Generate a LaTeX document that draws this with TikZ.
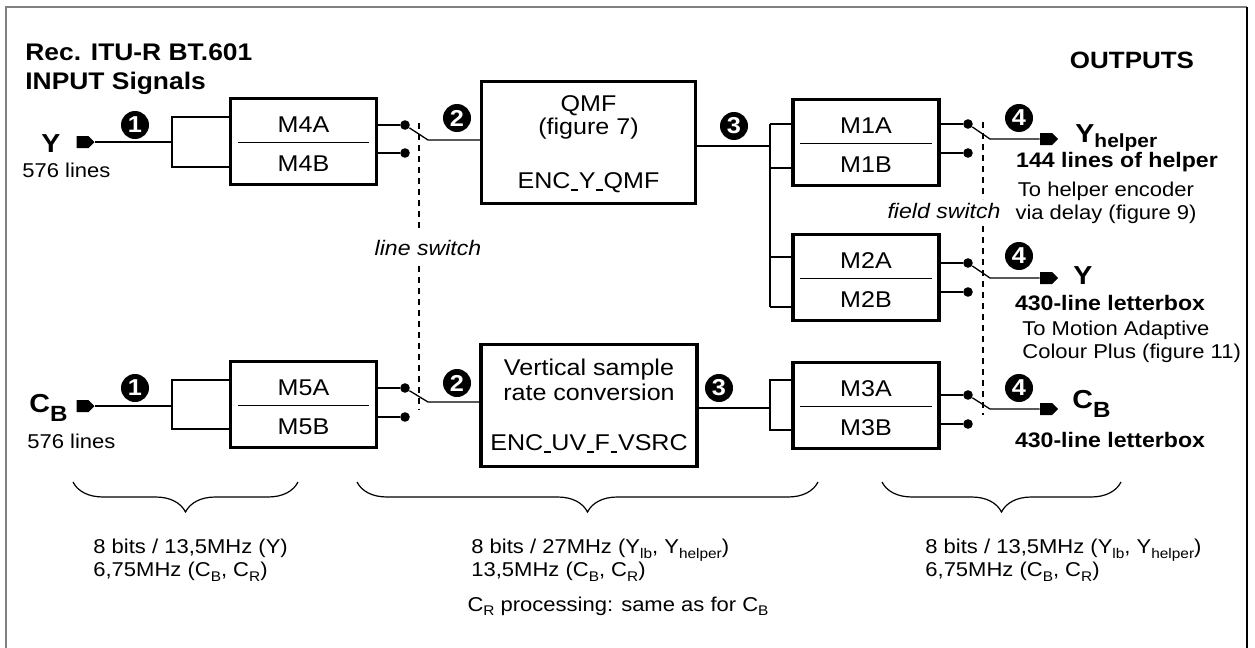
\documentclass[tikz,border=0pt]{standalone}
\usepackage{fontspec}
\setmainfont{Liberation Sans}[FakeStretch=1.1]
\usepackage{tikz}
\usetikzlibrary{positioning}
\usetikzlibrary{calc, shapes.symbols, decorations.pathreplacing}

\newcommand{\lsub}[1]{\raisebox{-0.4ex}{\fontsize{7}{8}\selectfont #1}}
\newcommand{\us}{\kern0.04em\rule[-0.12em]{0.28em}{0.07em}\kern0.04em}
\newcommand{\muxbox}[4]{%
  \node[muxbox] (#1) at (#2) {};
  \draw[wire] ($(#1.west)+(9,1)$) -- ($(#1.east)+(-9,1)$);
  \node[lbl] (#1a) at ($(#1)+(0,-17)$) {#3};
  \node[lbl] (#1b) at ($(#1)+(0,22)$) {#4};
}

\tikzset{
  muxbox/.style={draw, line width=1.6pt, minimum width=73pt, minimum height=43pt, inner sep=0},
  procbox/.style={draw, line width=1.6pt, minimum width=107pt, minimum height=61pt, inner sep=0},
  lbl/.style={font=\fontsize{11.4}{13}\selectfont, inner sep=0},
  note/.style={font=\fontsize{10}{11.5}\selectfont, inner sep=0},
  bnote/.style={font=\bfseries\fontsize{10.5}{12}\selectfont, inner sep=0},
  wire/.style={line width=0.65pt},
  dot/.style={circle, fill, inner sep=0, minimum size=4.8pt},
  num/.style={circle, fill, text=white, font=\bfseries\fontsize{11.5}{11.5}\selectfont, inner sep=0, minimum size=14pt},
  plug/.style={signal, signal to=east, fill, inner sep=0, minimum height=6pt, minimum width=9pt},
  swline/.style={line width=0.6pt, dash pattern=on 3pt off 2.5pt},
  swtext/.style={font=\itshape\fontsize{10.5}{12}\selectfont, inner sep=1pt},
  brc/.style={decorate, decoration={brace, mirror, amplitude=15pt}, line width=0.6pt},
}

\begin{document}
\begin{tikzpicture}[x=0.5pt, y=-0.5pt]
    \useasboundingbox (0,0) rectangle (1255,648);
    % frame
    \draw[gray, line width=1pt] (6,648) -- (6,7) -- (1247,7);
    \draw[line width=0.6pt] (1247,7) -- (1247,648);

    % headings
    \node[font=\bfseries\fontsize{12}{14.5}\selectfont, align=left, anchor=north west, inner sep=0] (title) at (25,43) {Rec. ITU-R BT.601\\INPUT Signals};
    \node[font=\bfseries\fontsize{11.8}{13}\selectfont, inner sep=0] (outs) at (1132,60) {OUTPUTS};

    % inputs
    \node[font=\bfseries\fontsize{13}{14}\selectfont, anchor=base west, inner sep=0] (yin) at (41,152) {Y};
    \node[note, anchor=base west] (yinl) at (22,177) {576 lines};
    \node[plug] (py) at (82.5,142) {};
    \node[anchor=base west, inner sep=0] (cin) at (29,412) {\bfseries{\fontsize{13}{14}\selectfont C}\raisebox{-4.5pt}{\fontsize{11}{12}\selectfont B}};
    \node[note, anchor=base west] (cinl) at (27,448) {576 lines};
    \node[plug] (pc) at (82.5,406) {};

    % line multiplexers
    \muxbox{m4}{303.5,141.5}{M4A}{M4B}
    \muxbox{m5}{303.5,404.5}{M5A}{M5B}

    \coordinate (b4t) at (172,117);
    \coordinate (b4b) at (172,167);
    \draw[wire] (py.east) -- (py.east -| b4t);
    \draw[wire] (m4.west |- b4t) -- (b4t) -- (b4b) -- (m4.west |- b4b);
    \coordinate (b5t) at (172,380);
    \coordinate (b5b) at (172,429);
    \draw[wire] (pc.east) -- (pc.east -| b5t);
    \draw[wire] (m5.west |- b5t) -- (b5t) -- (b5b) -- (m5.west |- b5b);

    \node[num] (n1y) at (135,125) {1};
    \node[num] (n1c) at (135,388) {1};

    % processing
    \node[procbox] (qmf) at (588.5,142.5) {};
    \node[lbl, anchor=base] at ($(qmf)+(0,-30.5)$) {QMF};
    \node[lbl, anchor=base] at ($(qmf)+(0,-8)$) {(figure 7)};
    \node[lbl, anchor=base] at ($(qmf)+(0,45.5)$) {ENC\us Y\us QMF};

    \node[procbox, minimum width=108pt] (vsrc) at (589,405.5) {};
    \node[lbl, anchor=base] at ($(vsrc)+(0,-30.5)$) {Vertical sample};
    \node[lbl, anchor=base] at ($(vsrc)+(0,-5.5)$) {rate conversion};
    \node[lbl, anchor=base] at ($(vsrc)+(0,44.5)$) {ENC\us UV\us F\us VSRC};

    % line switch
    \node[dot] (d4a) at (405,125) {};
    \node[dot] (d4b) at (405,153) {};
    \draw[wire] (m4.east |- d4a) -- (d4a);
    \draw[wire] (m4.east |- d4b) -- (d4b);
    \coordinate (s4) at (428,140);
    \draw[wire] (d4a) -- (s4) -- (s4 -| qmf.west);

    \node[dot] (d5a) at (405,388) {};
    \node[dot] (d5b) at (405,417) {};
    \draw[wire] (m5.east |- d5a) -- (d5a);
    \draw[wire] (m5.east |- d5b) -- (d5b);
    \coordinate (s5) at (428,402);
    \draw[wire] (d5a) -- (s5) -- (s5 -| vsrc.west);

    \draw[swline] (419,123) -- (419,230) (419,266) -- (419,410);
    \node[swtext] (lsw) at (428,248) {line switch};

    \node[num] (n2y) at (457,118) {2};
    \node[num] (n2c) at (457,383) {2};

    % field multiplexers
    \muxbox{m1}{866,142.5}{M1A}{M1B}
    \muxbox{m2}{866,277.5}{M2A}{M2B}
    \muxbox{m3}{866,405.5}{M3A}{M3B}

    \coordinate (q3) at (770,146);
    \coordinate (t1a) at (770,124);
    \coordinate (t1b) at (770,168);
    \coordinate (t2a) at (770,257);
    \coordinate (t2b) at (770,307);
    \draw[wire] (qmf.east |- q3) -- (q3);
    \draw[wire] (t1a) -- (t2b);
    \draw[wire] (t1a) -- (m1.west |- t1a);
    \draw[wire] (t1b) -- (m1.west |- t1b);
    \draw[wire] (t2a) -- (m2.west |- t2a);
    \draw[wire] (t2b) -- (m2.west |- t2b);

    \coordinate (q6) at (770,408);
    \coordinate (t3a) at (770,380);
    \coordinate (t3b) at (770,430);
    \draw[wire] (vsrc.east |- q6) -- (q6);
    \draw[wire] (m3.west |- t3a) -- (t3a) -- (t3b) -- (m3.west |- t3b);

    \node[num] (n3y) at (734,126) {3};
    \node[num] (n3c) at (719,388) {3};

    % field switch
    \node[dot] (d1a) at (968,124) {};
    \node[dot] (d1b) at (968,153) {};
    \node[dot] (d2a) at (968,263) {};
    \node[dot] (d2b) at (968,292) {};
    \node[dot] (d3a) at (968,395) {};
    \node[dot] (d3b) at (968,424) {};
    \foreach \m/\d in {m1/d1, m2/d2, m3/d3} {
        \draw[wire] (\m.east |- \d a) -- (\d a);
        \draw[wire] (\m.east |- \d b) -- (\d b);
    }
    \coordinate (s1) at (990,139);
    \coordinate (s2) at (990,278);
    \coordinate (s3) at (990,409);
    \node[plug] (p1) at (1046,139) {};
    \node[plug] (p2) at (1046,278) {};
    \node[plug] (p3) at (1046,409) {};
    \draw[wire] (d1a) -- (s1) -- (p1.west);
    \draw[wire] (d2a) -- (s2) -- (p2.west);
    \draw[wire] (d3a) -- (s3) -- (p3.west);

    \draw[swline] (983,122) -- (983,199) (983,226) -- (983,415);
    \node[swtext] (fsw) at (944,211) {field switch};

    \node[num] (n4a) at (1019,118) {4};
    \node[num] (n4b) at (1019,256) {4};
    \node[num] (n4c) at (1019,388) {4};

    % outputs
    \node[anchor=base west, inner sep=0] (yhelp) at (1075,142) {\bfseries{\fontsize{13}{14}\selectfont Y}\raisebox{-2.5pt}{\fontsize{9.5}{10}\selectfont helper}};
    \node[bnote] (yhelpl) at (1117,162) {144 lines of helper};
    \node[note, align=center] (yhelpn) at (1106,203) {To helper encoder\\via delay (figure 9)};
    \node[anchor=base west, inner sep=0] (ylb) at (1073,284) {\bfseries\fontsize{13}{14}\selectfont Y};
    \node[bnote] (ylbl) at (1110,303) {430-line letterbox};
    \node[note, align=left, anchor=west] (ylbn) at (1022,341.5) {To Motion Adaptive\\Colour Plus (figure 11)};
    \node[anchor=base west, inner sep=0] (cout) at (1072,408) {\bfseries{\fontsize{13}{14}\selectfont C}\raisebox{-4.5pt}{\fontsize{11}{12}\selectfont B}};
    \node[bnote] (coutl) at (1110,440) {430-line letterbox};

    % rates
    \draw[brc] (73,482) -- (298,482);
    \draw[brc] (357,482) -- (818,482);
    \draw[brc] (882,482) -- (1121,482);
    \node[note, align=left, anchor=north west] (r1) at (93,539) {8 bits / 13,5MHz (Y)\\6,75MHz (C\lsub{B}, C\lsub{R})};
    \node[note, align=left, anchor=north west] (r2) at (471,539) {8 bits / 27MHz (Y\lsub{lb}, Y\lsub{helper})\\13,5MHz (C\lsub{B}, C\lsub{R})};
    \node[note, align=left, anchor=north west] (r3) at (925,539) {8 bits / 13,5MHz (Y\lsub{lb}, Y\lsub{helper})\\6,75MHz (C\lsub{B}, C\lsub{R})};
    \node[note] (cr) at (618,606) {C\lsub{R} processing: same as for C\lsub{B}};
\end{tikzpicture}
\end{document}
